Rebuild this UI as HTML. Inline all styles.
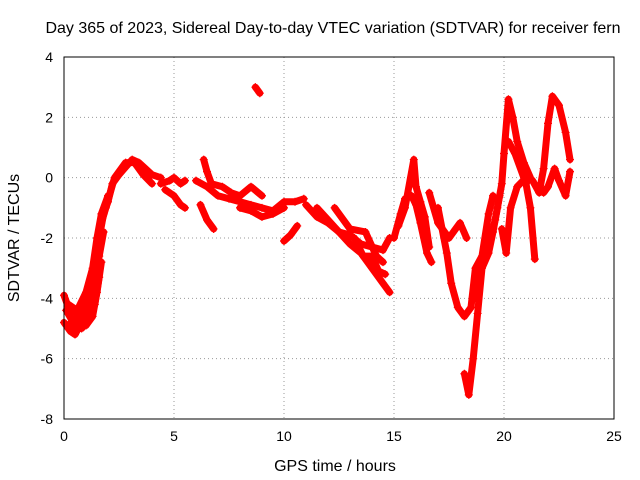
<!DOCTYPE html>
<html><head><meta charset="utf-8"><style>
body{margin:0;background:#fff}
svg{display:block;font-family:"Liberation Sans",sans-serif}
</style></head><body>
<svg id="chart" width="640" height="480">
<text x="333" y="33" text-anchor="middle" font-size="16">Day 365 of 2023, Sidereal Day-to-day VTEC variation (SDTVAR) for receiver fern</text>
<text x="335" y="471" text-anchor="middle" font-size="16">GPS time / hours</text>
<text transform="translate(19,238) rotate(-90)" text-anchor="middle" font-size="16">SDTVAR / TECUs</text>
<g id="grid"></g><g id="ticks"></g><g id="series"></g>
<rect x="64" y="57" width="550" height="362" fill="none" stroke="#000"/>
</svg>
<script>
const xTicks=[0,5,10,15,20,25];
const yTicks=[4,2,0,-2,-4,-6,-8];
const trackA=[[0,-4.8],[0.3,-5.1],[0.5,-5.2],[0.8,-4.8],[1.0,-4.5],[1.2,-4.0],[1.4,-3.0],[1.6,-2.0],[1.8,-1.2],[2.0,-0.8],[2.2,-0.2],[2.5,0.1],[2.8,0.35],[3.1,0.6],[3.4,0.5],[3.7,0.3],[4.0,0.1],[4.4,0.0]];
const trackA2=[[0,-3.9],[0.3,-4.5],[0.7,-4.3],[1.0,-4.0],[1.3,-3.5],[1.5,-2.5],[1.7,-1.5],[1.9,-1.0],[2.3,0.0],[2.8,0.5],[3.2,0.5],[3.6,0.1],[4.0,-0.2]];
const trackA3=[[0.2,-4.9],[0.6,-4.6],[1.0,-4.9],[1.3,-4.6],[1.5,-3.8],[1.7,-2.8]];
const trackA4=[[0.1,-4.4],[0.5,-4.9],[0.9,-4.3],[1.2,-4.4],[1.4,-3.6],[1.6,-2.6],[1.8,-1.8]];
const trackA5=[[0.2,-4.2],[0.6,-4.4],[1.0,-3.8],[1.3,-3.0],[1.5,-2.0],[1.7,-1.2],[2.0,-0.6]];
const trackA6=[[0.4,-5.0],[0.8,-5.0],[1.1,-4.7],[1.4,-4.2],[1.6,-3.3]];
const trackB=[[4.4,-0.2],[4.8,-0.1],[5.0,0.0],[5.3,-0.2],[5.5,-0.1]];
const trackB2=[[4.6,-0.4],[5.0,-0.6],[5.3,-0.9],[5.5,-1.0]];
const trackC=[[6.0,-0.1],[6.5,-0.3],[7.0,-0.6],[7.5,-0.7],[8.0,-0.8],[8.5,-0.9],[9.0,-1.0],[9.5,-1.1],[10.0,-0.8],[10.5,-0.8],[10.9,-0.7]];
const trackC2=[[6.2,-0.9],[6.5,-1.4],[6.8,-1.7]];
const trackC3=[[6.35,0.6],[6.5,0.2],[6.7,-0.2],[7.2,-0.3],[7.6,-0.5],[8.0,-0.6],[8.5,-0.3],[9.0,-0.6]];
const trackD=[[8.7,3.0],[8.9,2.8]];
const trackE=[[8.0,-1.0],[8.5,-1.1],[9.0,-1.3],[9.5,-1.2],[10.0,-1.0]];
const trackF=[[10.0,-2.1],[10.3,-1.9],[10.6,-1.6]];
const trackG=[[11.0,-0.9],[11.5,-1.3],[12.0,-1.5],[12.5,-1.8],[13.0,-1.9],[13.5,-2.2],[14.0,-2.3],[14.5,-2.4],[14.8,-2.0]];
const trackG2=[[11.5,-1.0],[12.0,-1.4],[12.5,-1.8],[13.0,-2.2],[13.5,-2.5],[14.0,-3.0],[14.5,-3.5],[14.8,-3.8]];
const trackG3=[[12.3,-1.0],[13.0,-1.7],[13.7,-1.8],[14.2,-2.6],[14.5,-2.8]];
const trackG4=[[13.2,-2.0],[13.6,-2.6],[14.0,-2.6],[14.3,-3.1],[14.6,-3.2]];
const trackH=[[15.0,-2.0],[15.3,-1.2],[15.5,-0.7],[15.8,-0.6],[16.0,-0.9],[16.2,-1.5],[16.5,-2.5],[16.7,-2.8]];
const trackH2=[[15.2,-1.6],[15.5,-1.0],[15.9,0.6],[16.0,-0.3],[16.2,-0.8],[16.4,-1.3],[16.6,-2.3]];
const trackI=[[16.6,-0.5],[17.0,-1.5],[17.5,-2.0],[17.8,-1.7],[18.0,-1.5],[18.3,-2.0]];
const trackJ=[[17.0,-1.0],[17.4,-2.5],[17.6,-3.5],[17.9,-4.3],[18.2,-4.6],[18.5,-4.3],[18.7,-3.0],[19.0,-2.6],[19.3,-1.2],[19.5,-0.6]];
const trackK=[[18.2,-6.5],[18.4,-7.2],[18.6,-6.0],[18.8,-4.5],[19.0,-3.0],[19.3,-2.5],[19.5,-1.8],[19.7,-1.0],[19.9,-0.2],[20.0,0.8],[20.2,2.6],[20.4,2.0],[20.6,1.2],[20.9,0.5],[21.2,0.0]];
const trackK2=[[18.7,-4.0],[19.0,-2.8],[19.3,-2.2],[19.6,-1.4],[19.8,-0.6]];
const trackL=[[19.9,-1.7],[20.1,-2.5],[20.3,-1.0],[20.6,-0.3],[21.0,0.0],[21.3,-0.1],[21.6,-0.5],[21.8,0.3],[22.0,1.8],[22.2,2.7],[22.5,2.4],[22.8,1.5],[23.0,0.6]];
const trackM=[[20.2,1.2],[20.5,0.8],[21.0,-0.2],[21.2,-1.0],[21.4,-2.7]];
const trackN=[[21.8,-0.5],[22.0,-0.3],[22.3,0.3],[22.5,-0.1],[22.8,-0.6],[23.0,0.2]];
const tracks=[trackA,trackA2,trackA3,trackA4,trackA5,trackA6,trackB,trackB2,trackC,trackC2,trackC3,trackD,trackE,trackF,trackG,trackG2,trackG3,trackG4,trackH,trackH2,trackI,trackJ,trackK,trackK2,trackL,trackM,trackN];
const NS="http://www.w3.org/2000/svg";
const X=t=>64+t*22, Y=v=>57+(4-v)*30.1667;
const g=document.getElementById('grid'),tk=document.getElementById('ticks'),s=document.getElementById('series');
function mk(tag,attrs,parent){const e=document.createElementNS(NS,tag);for(const k in attrs)e.setAttribute(k,attrs[k]);parent.appendChild(e);return e;}
xTicks.forEach(t=>{
 if(t>0&&t<25){const l=mk('line',{x1:X(t),x2:X(t),y1:57,y2:419,stroke:'#999','stroke-dasharray':'1,3'},g);
 
 }
 const tt=mk('text',{x:X(t),y:441,'text-anchor':'middle','font-size':14},tk);tt.textContent=t;
 
 
});
yTicks.forEach(v=>{
 if(v<4&&v>-8){const l=mk('line',{x1:64,x2:614,y1:Y(v),y2:Y(v),stroke:'#999','stroke-dasharray':'1,3'},g);
 
 }
 const tt=mk('text',{x:53,y:Y(v)+5,'text-anchor':'end','font-size':14},tk);tt.textContent=v;
 
 
});
tracks.forEach(tr=>{
 const p=mk('polyline',{points:tr.map(d=>X(d[0])+','+Y(d[1])).join(' '),fill:'none',stroke:'#f00','stroke-width':7,'stroke-linejoin':'round','stroke-linecap':'round'},s);
 
 
 tr.forEach(d=>{const x=X(d[0]),y=Y(d[1]);
  const m=mk('path',{d:`M${x-4} ${y}H${x+4}M${x} ${y-4}V${y+4}`,stroke:'#f00','stroke-width':1.2},s);
  
  
 });
});
</script>
</body></html>
